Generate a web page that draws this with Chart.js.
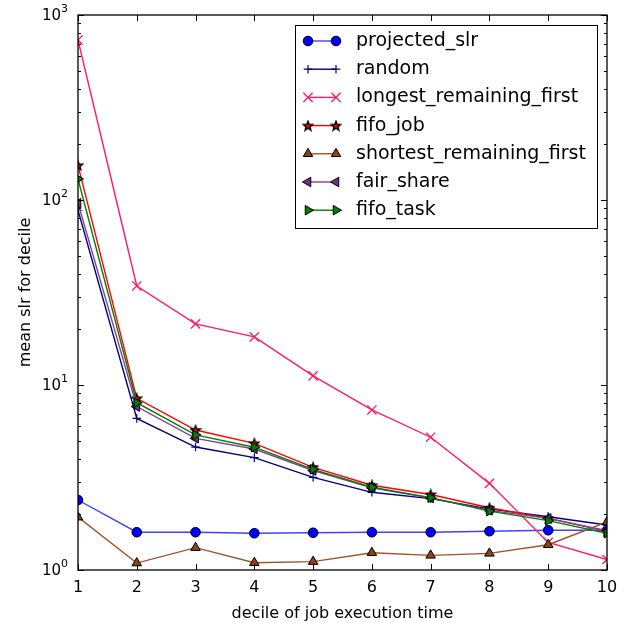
<!DOCTYPE html>
<html>
<head>
<meta charset="utf-8">
<script src="https://cdn.jsdelivr.net/npm/chart.js@4/dist/chart.umd.min.js"></script>
<style>
  html, body { margin: 0; padding: 0; background: #fff; }
  #c { display: block; }
</style>
</head>
<body>
<canvas id="c" width="626" height="623"></canvas>
<script>
// deciles on x, mean slr per decile on y (log)
var deciles = [1, 2, 3, 4, 5, 6, 7, 8, 9, 10];
var projectedSlr = [2.39, 1.60, 1.60, 1.58, 1.59, 1.60, 1.60, 1.62, 1.64, 1.64];
var randomSched = [88, 6.6, 4.62, 4.05, 3.17, 2.63, 2.43, 2.14, 1.94, 1.75];
var longestRemainingFirst = [733, 34.3, 21.4, 18.2, 11.2, 7.33, 5.22, 2.94, 1.41, 1.14];
var fifoJob = [154, 8.47, 5.71, 4.84, 3.59, 2.87, 2.56, 2.17, 1.90, 1.63];
var shortestRemainingFirst = [1.93, 1.09, 1.32, 1.095, 1.11, 1.24, 1.20, 1.23, 1.37, 1.82];
var fairShare = [96, 7.64, 5.15, 4.51, 3.45, 2.78, 2.45, 2.10, 1.90, 1.62];
var fifoTask = [130, 8.02, 5.37, 4.61, 3.50, 2.80, 2.46, 2.08, 1.85, 1.58];

var yMajorTicks = [1, 10, 100, 1000];
var yTickBase = '10';
var yTickExp = ['0', '1', '2', '3'];

var FONT = "'DejaVu Sans', sans-serif";

// filled star marker (red face, black edge)
function makeStar(size, face, edge) {
  var cv = document.createElement('canvas');
  cv.width = size; cv.height = size;
  var g = cv.getContext('2d');
  var cx = size / 2, cy = size / 2 + 0.5;
  var ro = size / 2 - 1, ri = ro * 0.42;
  g.beginPath();
  for (var i = 0; i < 10; i++) {
    var r = i % 2 ? ri : ro;
    var a = -Math.PI / 2 + i * Math.PI / 5;
    g.lineTo(cx + r * Math.cos(a), cy + r * Math.sin(a));
  }
  g.closePath();
  g.fillStyle = face;
  g.fill();
  g.lineWidth = 1.3;
  g.strokeStyle = edge;
  g.stroke();
  return cv;
}
var starImg = makeStar(12, '#ff0000', '#000000');

function series(label, values, line, marker) {
  return {
    label: label,
    data: values.map(function(v, i) { return {x: deciles[i], y: v}; }),
    borderColor: line,
    borderWidth: 1.4,
    pointStyle: marker.style,
    pointRadius: marker.radius,
    pointRotation: marker.rotation || 0,
    pointBackgroundColor: marker.face,
    pointBorderColor: marker.edge,
    pointBorderWidth: marker.edgeWidth,
    tension: 0,
    fill: false
  };
}

var datasets = [
  series('projected_slr', projectedSlr, 'rgba(0,0,255,0.75)',
    {style: 'circle', radius: 4.8, face: '#0000ff', edge: '#000', edgeWidth: 1}),
  series('random', randomSched, '#000080',
    {style: 'cross', radius: 4.3, face: '#000080', edge: '#000080', edgeWidth: 1.2}),
  series('longest_remaining_first', longestRemainingFirst, '#ff1a66',
    {style: 'crossRot', radius: 6.5, face: '#ff1a66', edge: '#ff1a66', edgeWidth: 1.3}),
  series('fifo_job', fifoJob, '#ff0000',
    {style: starImg, radius: 6, face: '#ff0000', edge: '#000', edgeWidth: 1}),
  series('shortest_remaining_first', shortestRemainingFirst, '#a0522d',
    {style: 'triangle', radius: 5.5, face: '#8b4513', edge: '#000', edgeWidth: 1}),
  series('fair_share', fairShare, '#8040a0',
    {style: 'triangle', radius: 5.5, rotation: -90, face: '#703090', edge: '#000', edgeWidth: 1}),
  series('fifo_task', fifoTask, '#008000',
    {style: 'triangle', radius: 5.5, rotation: 90, face: '#008000', edge: '#000', edgeWidth: 1})
];
datasets.forEach(function(d, i) { d.order = -i; });

// frame on all four sides with inward ticks, log minor ticks on y,
// and the 10^n labels drawn with a raised exponent
var framePlugin = {
  id: 'frame',
  afterDatasetsDraw: function(chart) {
    var ctx = chart.ctx, a = chart.chartArea;
    var xs = chart.scales.x, ys = chart.scales.y;
    ctx.save();
    ctx.strokeStyle = '#000';
    ctx.lineWidth = 1;
    ctx.beginPath();
    deciles.forEach(function(d) {
      var px = Math.round(xs.getPixelForValue(d)) + 0.5;
      ctx.moveTo(px, a.bottom); ctx.lineTo(px, a.bottom - 6);
      ctx.moveTo(px, a.top); ctx.lineTo(px, a.top + 6);
    });
    for (var k = 0; k < yMajorTicks.length; k++) {
      var base = yMajorTicks[k];
      var py = Math.round(ys.getPixelForValue(base)) + 0.5;
      ctx.moveTo(a.left, py); ctx.lineTo(a.left + 6, py);
      ctx.moveTo(a.right, py); ctx.lineTo(a.right - 6, py);
      if (k < yMajorTicks.length - 1) {
        for (var m = 2; m <= 9; m++) {
          var pm = Math.round(ys.getPixelForValue(base * m)) + 0.5;
          ctx.moveTo(a.left, pm); ctx.lineTo(a.left + 3, pm);
          ctx.moveTo(a.right, pm); ctx.lineTo(a.right - 3, pm);
        }
      }
    }
    ctx.stroke();
    ctx.lineWidth = 1.3;
    ctx.strokeRect(a.left, a.top, a.right - a.left, a.bottom - a.top);

    ctx.fillStyle = '#000';
    ctx.textBaseline = 'middle';
    yMajorTicks.forEach(function(v, i) {
      var py = ys.getPixelForValue(v);
      ctx.font = '11px ' + FONT;
      var ew = ctx.measureText(yTickExp[i]).width;
      ctx.textAlign = 'right';
      ctx.fillText(yTickExp[i], a.left - 10, py - 6);
      ctx.font = '15px ' + FONT;
      ctx.fillText(yTickBase, a.left - 10 - ew, py + 1);
    });
    ctx.restore();
  }
};

// boxed legend in the upper right: line with a marker at each end
var legendPlugin = {
  id: 'boxLegend',
  afterDraw: function(chart) {
    var ctx = chart.ctx;
    var box = {x: 295.5, y: 25.5, w: 302, h: 203};
    ctx.save();
    ctx.fillStyle = '#fff';
    ctx.fillRect(box.x, box.y, box.w, box.h);
    ctx.strokeStyle = '#000';
    ctx.lineWidth = 1;
    ctx.strokeRect(box.x, box.y, box.w, box.h);
    var x0 = 308, x1 = 336, tx = 356, y = 41, step = 28.2;
    chart.data.datasets.forEach(function(d, i) {
      var ry = y + i * step;
      ctx.beginPath();
      ctx.strokeStyle = d.borderColor;
      ctx.lineWidth = d.borderWidth;
      ctx.moveTo(x0, ry); ctx.lineTo(x1, ry);
      ctx.stroke();
      [x0, x1].forEach(function(px) {
        ctx.fillStyle = d.pointBackgroundColor;
        ctx.strokeStyle = d.pointBorderColor;
        ctx.lineWidth = d.pointBorderWidth;
        Chart.helpers.drawPoint(ctx, {
          pointStyle: d.pointStyle,
          radius: d.pointRadius,
          rotation: d.pointRotation,
          borderWidth: d.pointBorderWidth
        }, px, ry);
      });
      ctx.fillStyle = '#000';
      ctx.font = '19px ' + FONT;
      ctx.textBaseline = 'middle';
      ctx.textAlign = 'left';
      ctx.fillText(d.label, tx, ry);
    });
    ctx.restore();
  }
};

new Chart(document.getElementById('c'), {
  type: 'line',
  data: {datasets: datasets},
  options: {
    responsive: false,
    animation: false,
    devicePixelRatio: 1,
    layout: {padding: {top: 15, right: 19, left: 0, bottom: 0}},
    plugins: {legend: {display: false}, tooltip: {enabled: false}},
    scales: {
      x: {
        type: 'linear',
        min: 1,
        max: 10,
        grid: {display: false, drawTicks: false},
        border: {display: false},
        ticks: {stepSize: 1, color: '#000', padding: 8, font: {family: FONT, size: 16}},
        title: {display: true, text: 'decile of job execution time', color: '#000',
          padding: {top: 0, bottom: 0}, font: {family: FONT, size: 16}},
        afterFit: function(s) { s.height = 53; }
      },
      y: {
        type: 'logarithmic',
        min: 1,
        max: 1000,
        grid: {display: false, drawTicks: false},
        border: {display: false},
        afterBuildTicks: function(s) {
          s.ticks = yMajorTicks.map(function(v) { return {value: v}; });
        },
        ticks: {display: false},
        title: {display: true, text: 'mean slr for decile', color: '#000',
          padding: {top: 16, bottom: 0}, font: {family: FONT, size: 16}},
        afterFit: function(s) { s.width = 78; s.paddingTop = 0; s.paddingBottom = 0; }
      }
    }
  },
  plugins: [framePlugin, legendPlugin]
});
</script>
</body>
</html>
